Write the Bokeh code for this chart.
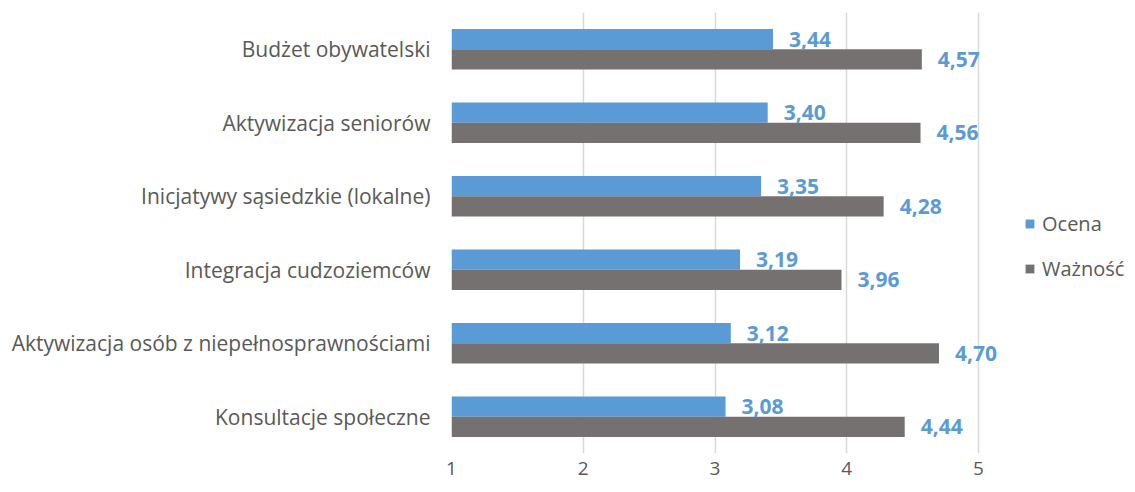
from bokeh.plotting import figure
from bokeh.models import Range1d, FixedTicker, ColumnDataSource, Legend, LegendItem
from bokeh.core.properties import value
from bokeh.embed import file_html
from bokeh.resources import INLINE

categories = ["Budżet obywatelski", "Aktywizacja seniorów", "Inicjatywy sąsiedzkie (lokalne)",
              "Integracja cudzoziemców", "Aktywizacja osób z niepełnosprawnościami", "Konsultacje społeczne"]
ocena = [3.44, 3.40, 3.35, 3.19, 3.12, 3.08]
waznosc = [4.57, 4.56, 4.28, 3.96, 4.70, 4.44]
series_names = ["Ocena", "Ważność"]
x_ticks = [1, 2, 3, 4, 5]

FONT = "Open Sans"
W, H = 1131, 484
left, right, top = 451, 0, 12
frame_bottom = 453
bottom = H - frame_bottom
frame_w = W - left - right
px_per_unit = (978 - 451) / 4.0
x_end = 1 + frame_w / px_per_unit

n = len(categories)
centers = [n - 0.5 - i for i in range(n)]
bh = 0.275

src = ColumnDataSource(dict(
    yc=centers,
    y_o=[c + bh / 2 for c in centers],
    y_w=[c - bh / 2 for c in centers],
    ocena=ocena, waznosc=waznosc,
    lab_o=[f"{v:.2f}".replace(".", ",") for v in ocena],
    lab_w=[f"{v:.2f}".replace(".", ",") for v in waznosc],
))

p = figure(width=W, height=H, output_backend="svg", toolbar_location=None,
           x_range=Range1d(1, x_end), y_range=Range1d(0, n),
           min_border_left=left, min_border_right=right, min_border_top=top,
           min_border_bottom=bottom)
p.outline_line_color = None
p.background_fill_color = "white"

r_o = p.hbar(y="y_o", left=1, right="ocena", height=bh, source=src,
             fill_color="#5B9BD5", line_color=None)
r_w = p.hbar(y="y_w", left=1, right="waznosc", height=bh, source=src,
             fill_color="#767171", line_color=None)

p.text(x="ocena", y="y_o", text="lab_o", source=src, x_offset=16,
       text_baseline="middle", text_align="left", text_font=value(FONT),
       text_font_style="bold", text_font_size="21px", text_color="#5B9BD5")
p.text(x="waznosc", y="y_w", text="lab_w", source=src, x_offset=16,
       text_baseline="middle", text_align="left", text_font=value(FONT),
       text_font_style="bold", text_font_size="21px", text_color="#5B9BD5")

p.xaxis.ticker = FixedTicker(ticks=x_ticks)
p.xgrid.ticker = FixedTicker(ticks=x_ticks)
p.xgrid.grid_line_color = "#D9D9D9"
p.xgrid.grid_line_width = 1.5
p.ygrid.grid_line_color = None
p.xaxis.axis_line_color = None
p.xaxis.major_tick_line_color = None
p.xaxis.minor_tick_line_color = None
p.xaxis.major_label_standoff = 2
p.xaxis.major_label_text_font = FONT
p.xaxis.major_label_text_font_size = "19px"
p.xaxis.major_label_text_color = "#595959"

p.yaxis.ticker = FixedTicker(ticks=centers)
p.yaxis.major_label_overrides = {c: cat for c, cat in zip(centers, categories)}
p.yaxis.axis_line_color = None
p.yaxis.major_tick_line_color = None
p.yaxis.minor_tick_line_color = None
p.yaxis.major_label_standoff = 15
p.yaxis.major_label_text_font = FONT
p.yaxis.major_label_text_font_size = "21px"
p.yaxis.major_label_text_color = "#595959"

legend = Legend(items=[LegendItem(label=series_names[0], renderers=[r_o]),
                       LegendItem(label=series_names[1], renderers=[r_w])],
                location=(1024 - 451, 453 - 282), orientation="vertical",
                glyph_width=11, glyph_height=11, label_height=22, spacing=18,
                padding=0, margin=0, border_line_color=None,
                background_fill_alpha=0, label_text_font=FONT,
                label_text_font_size="20px", label_text_color="#595959",
                label_standoff=7)
p.add_layout(legend)

open("out.html", "w").write(file_html(p, INLINE))
